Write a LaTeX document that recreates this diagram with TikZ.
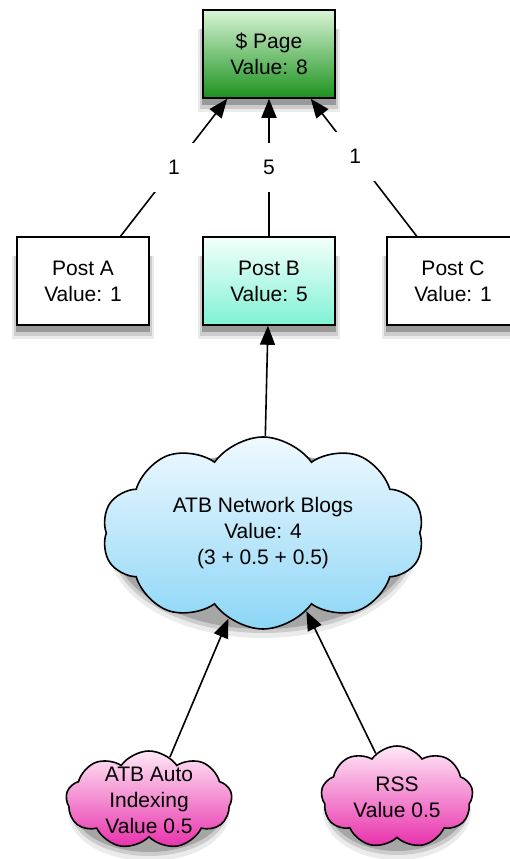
\documentclass[tikz,border=0pt]{standalone}
\usepackage{fontspec}
\setmainfont{Liberation Sans}
\usetikzlibrary{arrows.meta,shapes.symbols,backgrounds}

\definecolor{pagetop}{RGB}{216,244,214}
\definecolor{pagebot}{RGB}{28,146,30}
\definecolor{posttop}{RGB}{244,255,251}
\definecolor{postbot}{RGB}{128,242,212}
\definecolor{nettop}{RGB}{240,249,255}
\definecolor{netbot}{RGB}{140,214,246}
\definecolor{feedtop}{RGB}{255,232,246}
\definecolor{feedbot}{RGB}{232,48,172}

\tikzset{
	valuebox/.style={draw=black, line width=1.6pt, minimum width=132pt, minimum height=88pt, align=center},
	valuecloud/.style={cloud, draw=black, line width=1.6pt, cloud ignores aspect},
	flow/.style={-{Triangle[length=19pt,width=15pt]}, line width=1.6pt},
	weight/.style={fill=white, inner sep=17pt}
}

\begin{document}
\begin{tikzpicture}[x=1pt, y=1pt, font=\fontsize{21}{26}\selectfont]
	\clip (0,0) rectangle (510,859);
	\node[valuebox, top color=pagetop, bottom color=pagebot] (page) at (269,805) {\$ Page\\Value: 8};
	\node[valuebox, fill=white] (postA) at (83,578) {Post A\\Value: 1};
	\node[valuebox, top color=posttop, bottom color=postbot] (postB) at (269,578) {Post B\\Value: 5};
	\node[valuebox, fill=white] (postC) at (453,578) {Post C\\Value: 1};
	\node[valuecloud, cloud puffs=10, cloud puff arc=110, minimum width=322pt, minimum height=192pt, top color=nettop, bottom color=netbot,
		label={[align=center]center:ATB Network Blogs\\Value: 4\\(3 + 0.5 + 0.5)}] (network) at (263,326) {};
	\node[valuecloud, cloud puffs=9, cloud puff arc=110, minimum width=166pt, minimum height=98pt, top color=feedtop, bottom color=feedbot,
		label={[align=center]center:ATB Auto\\Indexing\\Value 0.5}] (autoidx) at (149,59) {};
	\node[valuecloud, cloud puffs=9, cloud puff arc=110, minimum width=152pt, minimum height=102pt, top color=feedtop, bottom color=feedbot,
		label={[align=center]center:RSS\\Value 0.5}] (rss) at (397,62) {};

	\begin{scope}[on background layer]
		\foreach \n in {page,postA,postB,postC} {
			\fill[black!8] ([xshift=-4pt,yshift=-13pt]\n.south west) rectangle ([xshift=4pt,yshift=-20pt]\n.north east);
			\fill[black!20] ([xshift=-2pt,yshift=-10pt]\n.south west) rectangle ([xshift=2pt,yshift=-20pt]\n.north east);
			\fill[black!40] ([yshift=-6pt]\n.south west) rectangle ([yshift=-20pt]\n.north east);
		}
		\foreach \n/\rx/\ry in {network/150/88, autoidx/76/44, rss/70/46} {
			\fill[black!8] ([yshift=-14pt]\n.center) ellipse [x radius=\rx+4, y radius=\ry+3];
			\fill[black!20] ([yshift=-11pt]\n.center) ellipse [x radius=\rx+2, y radius=\ry+1];
			\fill[black!35] ([yshift=-8pt]\n.center) ellipse [x radius=\rx, y radius=\ry];
		}
	\end{scope}

	\draw[flow] (postA.50) -- node[weight] {1} (page.-133);
	\draw[flow] (postB) -- node[weight] {5} (page);
	\draw[flow] (postC.129) -- node[weight, pos=0.58] {1} (page.-47);
	\draw[flow] (network) -- (postB);
	\draw[flow] (autoidx.64) -- (network.-112);
	\draw[flow] (rss.116) -- (network.-61);
\end{tikzpicture}
\end{document}
